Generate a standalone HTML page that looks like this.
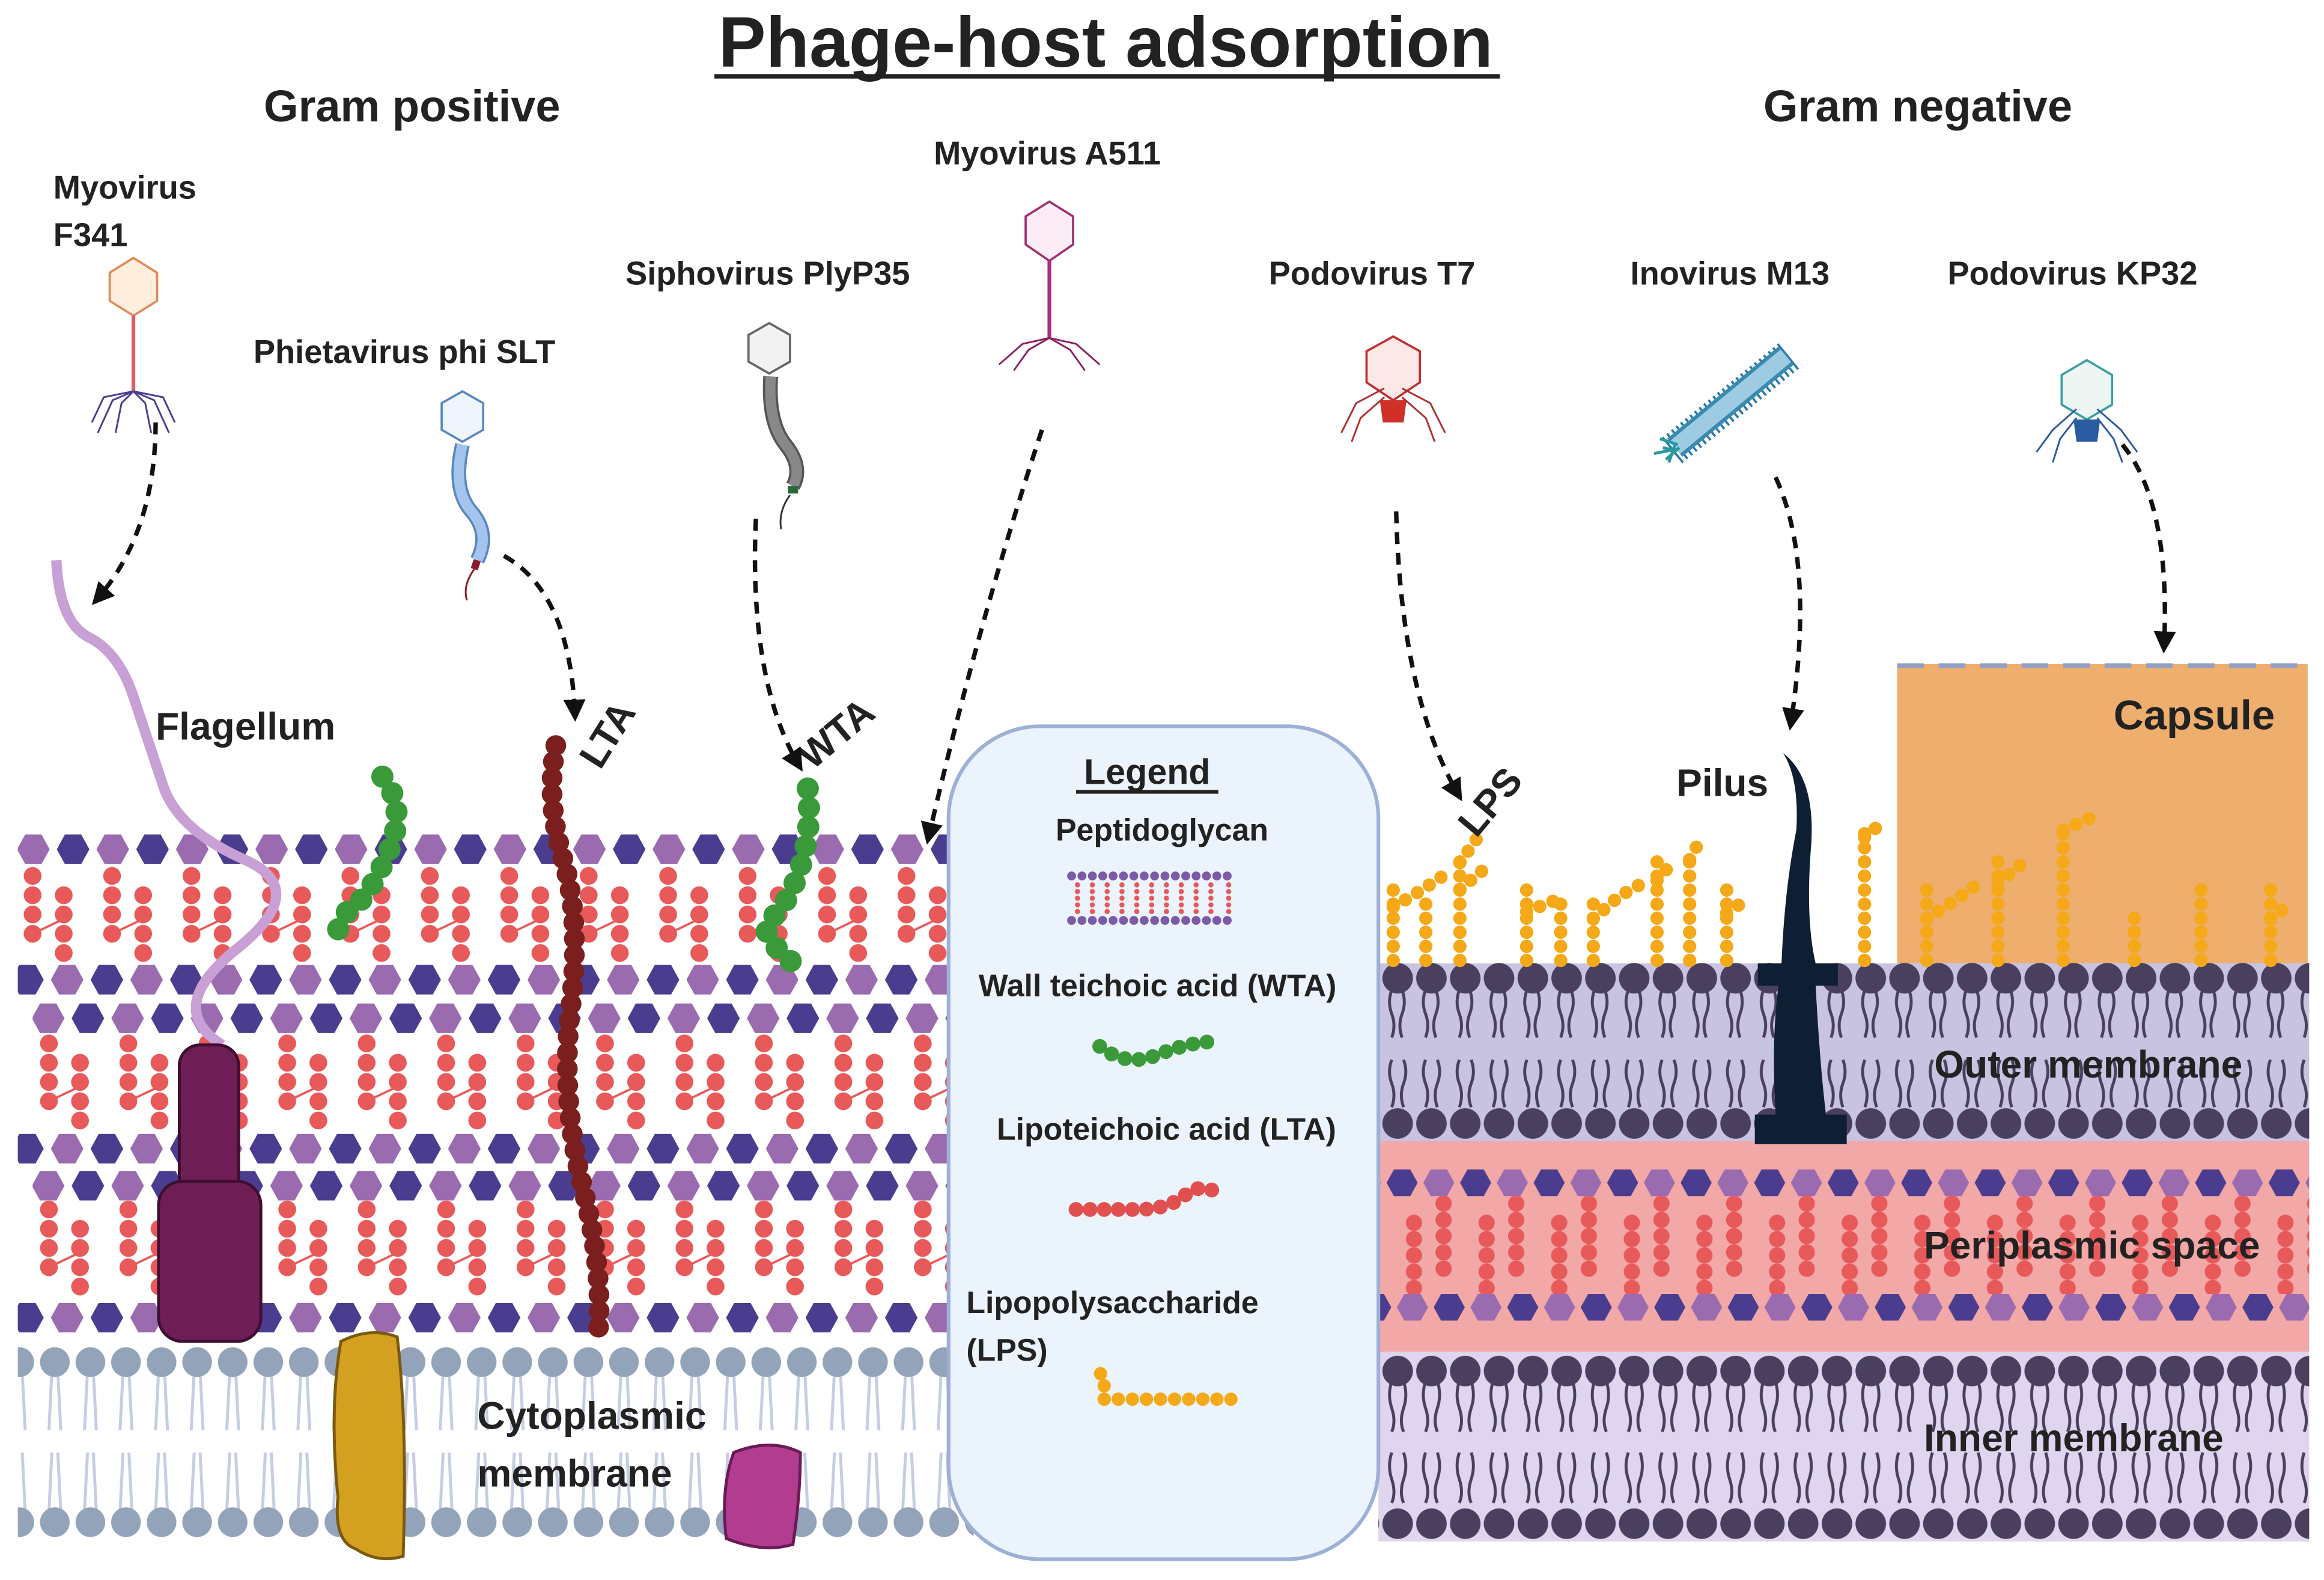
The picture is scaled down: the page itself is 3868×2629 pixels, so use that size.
<!DOCTYPE html>
<html><head><meta charset="utf-8"><style>
html,body{margin:0;padding:0;background:#fff}
svg{display:block}
text{font-family:"Liberation Sans",sans-serif;font-weight:bold;fill:#222}
</style></head><body>
<svg xmlns="http://www.w3.org/2000/svg" width="3868" height="2629" viewBox="0 0 1568 1066" preserveAspectRatio="none">
<defs>
<marker id="ah" viewBox="0 0 10 10" refX="8" refY="5" markerWidth="5" markerHeight="5" orient="auto"><path d="M0,0L10,5L0,10z" fill="#111"/></marker>
<pattern id="hexA" patternUnits="userSpaceOnUse" x="11" y="563" width="53.6" height="20"><path d="M0.5,10L6,0H17L22.5,10L17,20H6z" fill="#9b6bb0"/><path d="M27.3,10L32.8,0H43.8L49.3,10L43.8,20H32.8z" fill="#4a3d8f"/></pattern>
<pattern id="hexB" patternUnits="userSpaceOnUse" x="7" y="651" width="53.6" height="114"><path d="M0.5,10L6,0H17L22.5,10L17,20H6z" fill="#4a3d8f"/><path d="M27.3,10L32.8,0H43.8L49.3,10L43.8,20H32.8z" fill="#9b6bb0"/></pattern>
<pattern id="hexC" patternUnits="userSpaceOnUse" x="21" y="677" width="53.6" height="113"><path d="M0.5,10L6,0H17L22.5,10L17,20H6z" fill="#9b6bb0"/><path d="M27.3,10L32.8,0H43.8L49.3,10L43.8,20H32.8z" fill="#4a3d8f"/></pattern>
<pattern id="hexP" patternUnits="userSpaceOnUse" x="935" y="789" width="49.6" height="18"><path d="M0.5,9L5.5,0H16.5L21.5,9L16.5,18H5.5z" fill="#4a3d8f"/><path d="M25.3,9L30.3,0H41.3L46.3,9L41.3,18H30.3z" fill="#9b6bb0"/></pattern>
<pattern id="hexQ" patternUnits="userSpaceOnUse" x="942" y="873" width="49.6" height="18"><path d="M0.5,9L5.5,0H16.5L21.5,9L16.5,18H5.5z" fill="#9b6bb0"/><path d="M25.3,9L30.3,0H41.3L46.3,9L41.3,18H30.3z" fill="#4a3d8f"/></pattern>
<pattern id="beadL" patternUnits="userSpaceOnUse" x="16" y="0" width="53.6" height="1000"><g fill="#e8595a"><circle cx="6" cy="591" r="6"/><circle cx="6" cy="604" r="6"/><circle cx="6" cy="617" r="6"/><circle cx="6" cy="630" r="6"/><circle cx="27" cy="604" r="6"/><circle cx="27" cy="617" r="6"/><circle cx="27" cy="630" r="6"/><circle cx="27" cy="643" r="6"/></g><line x1="6" y1="630" x2="27" y2="620" stroke="#e8595a" stroke-width="1.5"/></pattern>
<pattern id="beadM" patternUnits="userSpaceOnUse" x="27" y="113" width="53.6" height="1000"><g fill="#e8595a"><circle cx="6" cy="591" r="6"/><circle cx="6" cy="604" r="6"/><circle cx="6" cy="617" r="6"/><circle cx="6" cy="630" r="6"/><circle cx="27" cy="604" r="6"/><circle cx="27" cy="617" r="6"/><circle cx="27" cy="630" r="6"/><circle cx="27" cy="643" r="6"/></g><line x1="6" y1="630" x2="27" y2="620" stroke="#e8595a" stroke-width="1.5"/></pattern>
<pattern id="beadN" patternUnits="userSpaceOnUse" x="27" y="225" width="53.6" height="1000"><g fill="#e8595a"><circle cx="6" cy="591" r="6"/><circle cx="6" cy="604" r="6"/><circle cx="6" cy="617" r="6"/><circle cx="6" cy="630" r="6"/><circle cx="27" cy="604" r="6"/><circle cx="27" cy="617" r="6"/><circle cx="27" cy="630" r="6"/><circle cx="27" cy="643" r="6"/></g><line x1="6" y1="630" x2="27" y2="620" stroke="#e8595a" stroke-width="1.5"/></pattern>
<pattern id="beadP" patternUnits="userSpaceOnUse" x="948" y="0" width="49" height="1000"><g fill="#e8595a"><circle cx="6" cy="825" r="5.5"/><circle cx="6" cy="836" r="5.5"/><circle cx="6" cy="847" r="5.5"/><circle cx="6" cy="858" r="5.5"/><circle cx="6" cy="869" r="5.5"/><circle cx="26" cy="812" r="5.5"/><circle cx="26" cy="823" r="5.5"/><circle cx="26" cy="834" r="5.5"/><circle cx="26" cy="845" r="5.5"/><circle cx="26" cy="856" r="5.5"/></g></pattern>
<pattern id="gpm" patternUnits="userSpaceOnUse" x="1" y="0" width="24" height="1100"><g stroke="#c4cde3" stroke-width="2" fill="none"><path d="M10,925L8,965M14,925L16,965M10,980L8,1020M14,980L16,1020"/></g><circle cx="12" cy="919" r="10" fill="#93a3b9"/><circle cx="12" cy="1027" r="10" fill="#93a3b9"/></pattern>
<pattern id="om" patternUnits="userSpaceOnUse" x="932" y="0" width="22.8" height="1100"><g stroke="#4a3f5e" stroke-width="2" fill="none"><path d="M7,668q-3,8 0,16t0,16M14,668q3,8 0,16t0,16M7,715q-3,8 0,16t0,16M15,715q3,8 0,16t0,16"/></g><circle cx="11" cy="660" r="10.3" fill="#4a3f5e"/><circle cx="11" cy="758" r="10.3" fill="#4a3f5e"/></pattern>
<pattern id="im" patternUnits="userSpaceOnUse" x="932" y="0" width="22.8" height="1100"><g stroke="#4a3f5e" stroke-width="2" fill="none"><path d="M7,932q-3,9 0,18t0,16M15,932q3,9 0,18t0,16M7,980q-3,9 0,18t0,16M15,980q3,9 0,18t0,16"/></g><circle cx="11" cy="925" r="10.3" fill="#4a3f5e"/><circle cx="11" cy="1028" r="10.3" fill="#4a3f5e"/></pattern>
</defs>

<rect width="1568" height="1066" fill="#fff"/>

<text x="746" y="45" font-size="48" text-anchor="middle">Phage-host adsorption</text>
<rect x="482" y="50" width="530" height="3" fill="#222"/>
<text x="278" y="82" font-size="30" text-anchor="middle">Gram positive</text>
<text x="1294" y="82" font-size="30" text-anchor="middle">Gram negative</text>

<rect x="12" y="563" width="628" height="20" fill="url(#hexA)"/>
<rect x="12" y="583" width="628" height="68" fill="url(#beadL)"/>
<rect x="12" y="651" width="628" height="20" fill="url(#hexB)"/>
<rect x="22" y="677" width="618" height="20" fill="url(#hexC)"/>
<rect x="22" y="697" width="618" height="68" fill="url(#beadM)"/>
<rect x="12" y="765" width="628" height="20" fill="url(#hexB)"/>
<rect x="22" y="790" width="618" height="20" fill="url(#hexC)"/>
<rect x="22" y="810" width="618" height="67" fill="url(#beadN)"/>
<rect x="12" y="879" width="628" height="20" fill="url(#hexB)"/>
<rect x="12" y="905" width="645" height="135" fill="url(#gpm)"/>

<rect x="1280" y="448" width="277" height="202" fill="#eeae6d"/>
<line x1="1280" y1="449" x2="1557" y2="449" stroke="#8fa0c8" stroke-width="3" stroke-dasharray="18 10"/>
<rect x="930" y="650" width="628" height="120" fill="#c9c3e2"/>
<rect x="930" y="770" width="628" height="142" fill="#f2a8a6"/>
<rect x="930" y="912" width="628" height="128" fill="#e0d5ef"/>
<rect x="930" y="647" width="628" height="122" fill="url(#om)"/>
<rect x="930" y="789" width="628" height="18" fill="url(#hexP)"/>
<rect x="930" y="807" width="628" height="66" fill="url(#beadP)"/>
<rect x="930" y="873" width="628" height="18" fill="url(#hexQ)"/>
<rect x="930" y="912" width="628" height="128" fill="url(#im)"/>

<g stroke="#f5a818" stroke-width="9" stroke-linecap="round" stroke-dasharray="0 9.5" fill="none">
<path d="M940,648V600"/><path d="M962,648V604"/><path d="M985,648V580"/><path d="M1030,648V600"/><path d="M1053,648V608"/><path d="M1075,648V605"/><path d="M1118,648V580"/><path d="M1140,648V578"/><path d="M1165,648V600"/><path d="M1258,648V558"/><path d="M1300,648V600"/><path d="M1348,648V580"/><path d="M1392,648V556"/><path d="M1440,648V610"/><path d="M1485,648V600"/><path d="M1532,648V600"/>
<path d="M940,612L960,600L975,590"/><path d="M985,600L1003,585"/><path d="M985,582L997,565"/><path d="M1030,615L1048,608"/><path d="M1075,620L1092,605L1108,596"/><path d="M1118,594L1130,580"/><path d="M1140,580L1148,565"/><path d="M1165,616L1180,606"/><path d="M1258,565L1270,555"/><path d="M1300,620L1318,608L1338,594"/><path d="M1348,596L1365,582"/><path d="M1392,560L1410,552"/><path d="M1532,620L1545,610"/>
</g>

<rect x="640" y="490" width="290" height="562" rx="62" fill="#ebf3fc" stroke="#9db0d6" stroke-width="2.5"/>
<text x="774" y="529" font-size="24" text-anchor="middle">Legend</text>
<rect x="726" y="533" width="96" height="2.5" fill="#222"/>
<text x="784" y="567" font-size="21" text-anchor="middle">Peptidoglycan</text>
<g stroke-width="6" stroke-linecap="round" stroke-dasharray="0 7" fill="none">
<path d="M723,591H835" stroke="#7b5aa8"/><path d="M723,621H835" stroke="#7b5aa8"/>
</g>
<g stroke="#e8595a" stroke-width="3.5" stroke-linecap="round" stroke-dasharray="0 4.5">
<path d="M727,597V616M737,597V616M747,597V616M757,597V616M767,597V616M777,597V616M787,597V616M797,597V616M807,597V616M817,597V616M829,597V616"/>
</g>
<text x="781" y="672" font-size="21" text-anchor="middle">Wall teichoic acid (WTA)</text>
<path d="M742,706Q760,720 780,712T815,703" stroke="#3a9a3a" stroke-width="10" stroke-linecap="round" stroke-dasharray="0 9.5" fill="none"/>
<text x="787" y="769" font-size="21" text-anchor="middle">Lipoteichoic acid (LTA)</text>
<path d="M726,816H770Q790,815 800,806T826,807" stroke="#e0504f" stroke-width="10" stroke-linecap="round" stroke-dasharray="0 9.5" fill="none"/>
<text x="652" y="886" font-size="21">Lipopolysaccharide</text>
<text x="652" y="918" font-size="21">(LPS)</text>
<path d="M745,944H838" stroke="#f5a818" stroke-width="9" stroke-linecap="round" stroke-dasharray="0 9.5" fill="none"/>
<path d="M745,944V930L738,921" stroke="#f5a818" stroke-width="9" stroke-linecap="round" stroke-dasharray="0 9" fill="none"/>

<path d="M38,378Q40,420 60,430T90,470T110,530T165,580T160,640T150,705" stroke="#c9a0d6" stroke-width="7" fill="none"/>
<rect x="121" y="705" width="40" height="110" rx="14" fill="#6e1e55" stroke="#3e0e30" stroke-width="2"/>
<rect x="107" y="797" width="69" height="108" rx="16" fill="#6e1e55" stroke="#3e0e30" stroke-width="2"/>
<path d="M230,905Q250,895 268,902Q275,960 272,1050Q255,1055 240,1045Q225,1040 228,1010Q222,950 230,905z" fill="#d4a020" stroke="#7a5a10" stroke-width="2"/>
<path d="M495,980Q520,970 540,980Q540,1010 535,1042Q515,1048 490,1038Q486,1005 495,980z" fill="#b23c90" stroke="#6a1a55" stroke-width="2"/>

<path d="M258,524Q275,545 262,575T240,610T226,634" stroke="#3a9a3a" stroke-width="15" stroke-linecap="round" stroke-dasharray="0 13" fill="none"/>
<path d="M545,532Q548,560 540,585T520,620T543,656" stroke="#3a9a3a" stroke-width="15" stroke-linecap="round" stroke-dasharray="0 13" fill="none"/>
<path d="M375,503Q368,540 380,580T385,680T393,800T403,905" stroke="#7a1e1e" stroke-width="14" stroke-linecap="round" stroke-dasharray="0 11" fill="none"/>

<path d="M1203,508Q1225,525 1222,570Q1218,620 1225,650L1240,650L1240,665L1225,665Q1228,720 1232,752L1246,752L1246,772L1184,772L1184,752L1198,752Q1195,700 1200,665L1186,665L1186,650L1202,650Q1204,600 1212,560Q1214,525 1203,508z" fill="#0f1f33"/>

<text x="105" y="499" font-size="26">Flagellum</text>
<text x="0" y="0" font-size="26" transform="translate(405,520) rotate(-58)">LTA</text>
<text x="0" y="0" font-size="26" transform="translate(548,520) rotate(-40)">WTA</text>
<text x="322" y="964" font-size="26">Cytoplasmic</text>
<text x="322" y="1003" font-size="26">membrane</text>
<text x="0" y="0" font-size="26" transform="translate(996,566) rotate(-50)">LPS</text>
<text x="1131" y="537" font-size="26">Pilus</text>
<text x="1426" y="492" font-size="28">Capsule</text>
<text x="1305" y="727" font-size="26">Outer membrane</text>
<text x="1298" y="849" font-size="26">Periplasmic space</text>
<text x="1298" y="979" font-size="26">Inner membrane</text>

<text x="36" y="134" font-size="22">Myovirus</text>
<text x="36" y="166" font-size="22">F341</text>
<text x="171" y="245" font-size="22">Phietavirus phi SLT</text>
<text x="422" y="192" font-size="22">Siphovirus PlyP35</text>
<text x="630" y="111" font-size="22">Myovirus A511</text>
<text x="856" y="192" font-size="22">Podovirus T7</text>
<text x="1100" y="192" font-size="22">Inovirus M13</text>
<text x="1314" y="192" font-size="22">Podovirus KP32</text>

<g fill="none" stroke-width="1.2">
<path d="M90,174L106,184V203L90,213L74,203V184z" fill="#fdeedd" stroke="#e08a5a" stroke-width="1.5"/>
<line x1="90" y1="213" x2="90" y2="264" stroke="#e05a6a" stroke-width="2.5"/>
<path d="M90,264L70,268L62,285M90,264L110,268L118,285M90,264L76,270L66,292M90,264L104,270L114,292M90,264L82,272L78,292M90,264L98,272L102,292" stroke="#4a3f8f"/>
<path d="M312,264L326,272V290L312,298L298,290V272z" fill="#eef5fc" stroke="#5b86c4" stroke-width="1.5"/>
<path d="M312,300Q305,330 318,345T322,378" stroke="#5b86c4" stroke-width="10"/>
<path d="M312,300Q305,330 318,345T322,378" stroke="#a3c4ec" stroke-width="7"/>
<path d="M322,378L320,384" stroke="#8a1a2a" stroke-width="5"/>
<path d="M320,384Q312,395 315,405" stroke="#8a1a2a"/>
<path d="M519,218L533,226V244L519,252L505,244V226z" fill="#f2f2f2" stroke="#666" stroke-width="1.5"/>
<path d="M520,254Q518,285 530,300T535,328" stroke="#555" stroke-width="10"/>
<path d="M520,254Q518,285 530,300T535,328" stroke="#888" stroke-width="7"/>
<path d="M535,328V333" stroke="#2d6a3a" stroke-width="7"/>
<path d="M533,334Q525,345 527,357" stroke="#333"/>
<path d="M708,136L724,146V165L708,176L692,165V146z" fill="#fcecf6" stroke="#a0306e" stroke-width="1.5"/>
<line x1="708" y1="176" x2="708" y2="228" stroke="#b02a80" stroke-width="2.5"/>
<path d="M708,228L690,232L674,246M708,228L726,232L742,246M708,228L694,236L684,250M708,228L722,236L732,250" stroke="#8a2060"/>
<path d="M940,227L958,237V258L940,270L922,258V237z" fill="#fde8e8" stroke="#c03030" stroke-width="1.5"/>
<path d="M931,270H949L947,285H933z" fill="#d03028"/>
<path d="M934,262L915,272L905,292M946,262L965,272L975,292M934,268L918,282L912,298M946,268L962,282L968,298" stroke="#b03030"/>
<path d="M1128,304L1207,240" stroke="#2a7aa8" stroke-width="22" stroke-dasharray="1.5 2.5"/>
<path d="M1130,302L1205,240" stroke="#3a8ab0" stroke-width="16"/>
<path d="M1130,302L1205,240" stroke="#9ccbe2" stroke-width="11"/>
<path d="M1132,300L1120,296M1133,302L1124,310M1130,304L1122,302M1130,300L1126,312M1131,303L1116,306" stroke="#2a9aa0" stroke-width="2"/>
<path d="M1408,243L1425,253V273L1408,283L1391,273V253z" fill="#eef6f4" stroke="#3aa0a0" stroke-width="1.5"/>
<path d="M1399,283H1417L1415,298H1401z" fill="#2a5aa0"/>
<path d="M1401,276L1385,290L1374,305M1415,276L1431,290L1442,305M1401,282L1390,296L1385,312M1415,282L1426,296L1432,312" stroke="#2a5aa0"/>
</g>

<g stroke="#111" stroke-width="3" stroke-dasharray="8 6" fill="none" marker-end="url(#ah)">
<path d="M105,285Q105,360 64,406"/>
<path d="M340,375Q385,400 388,484"/>
<path d="M510,350Q505,460 540,518"/>
<path d="M703,290Q660,420 626,567"/>
<path d="M942,345Q945,470 985,538"/>
<path d="M1198,322Q1225,380 1208,490"/>
<path d="M1432,300Q1465,340 1460,438"/>
</g>
</svg>
</body></html>
